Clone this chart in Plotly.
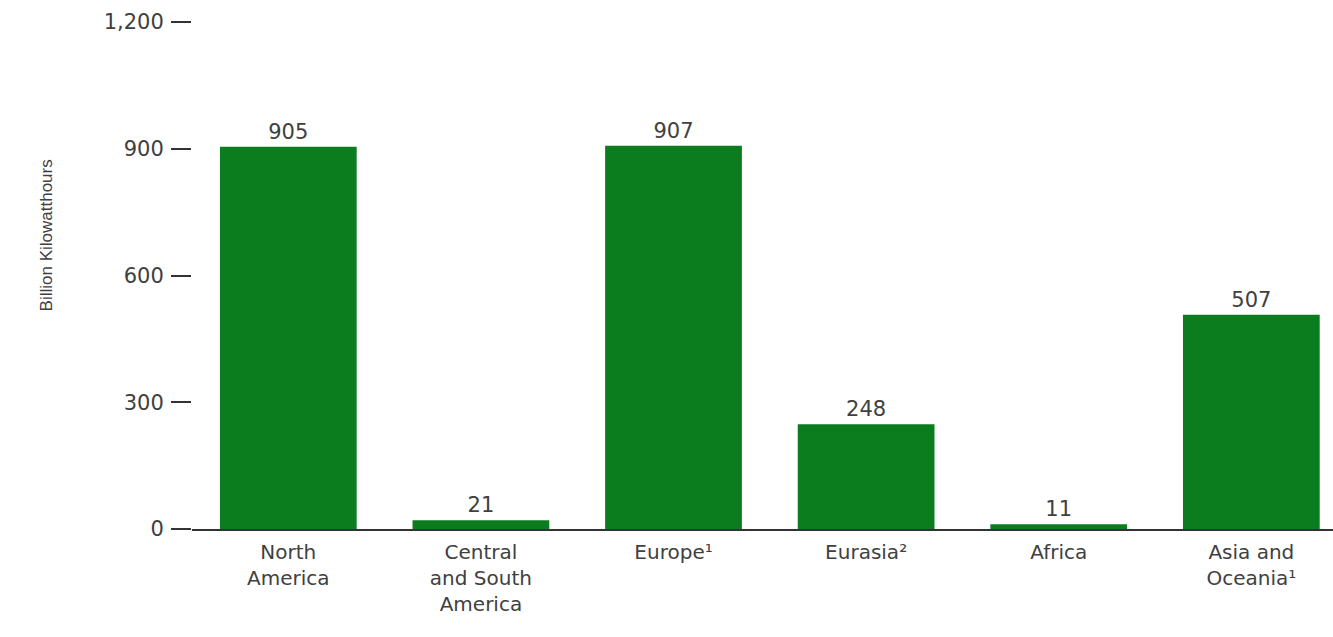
import plotly.graph_objects as go

categories = ["North<br>America", "Central<br>and South<br>America", "Europe¹", "Eurasia²", "Africa", "Asia and<br>Oceania¹"]
values = [905, 21, 907, 248, 11, 507]
value_labels = ["905", "21", "907", "248", "11", "507"]
y_ticks = [0, 300, 600, 900, 1200]
y_tick_text = ["0", "300", "600", "900", "1,200"]

bar_color = "#0b7d1f"
text_color = "#404040"
font_family = "DejaVu Sans, Verdana, sans-serif"

fig = go.Figure(go.Bar(
    x=categories,
    y=values,
    text=value_labels,
    textposition="outside",
    cliponaxis=False,
    textfont=dict(family=font_family, size=21, color=text_color),
    marker=dict(color=bar_color, line=dict(width=0)),
    width=0.71,
))

fig.update_layout(
    width=1333, height=637,
    margin=dict(l=192, r=0, t=22, b=108),
    paper_bgcolor="white", plot_bgcolor="white",
    font=dict(family=font_family, size=20, color=text_color),
    showlegend=False,
)
fig.update_xaxes(
    type="category",
    range=[-0.5, 5.424],
    showline=True, linecolor="#333333", linewidth=2,
    showgrid=False, ticks="", zeroline=False,
    ticklabelstandoff=4,
    tickfont=dict(family=font_family, size=20, color=text_color),
)
fig.update_yaxes(
    range=[0, 1200],
    tickvals=y_ticks, ticktext=y_tick_text,
    ticks="outside", ticklen=20, tickwidth=2, tickcolor="#333333",
    showgrid=False, zeroline=False, showline=False,
    ticklabelstandoff=3,
    tickfont=dict(family=font_family, size=21, color=text_color),
)
fig.add_annotation(
    text="Billion Kilowatthours",
    xref="paper", yref="paper",
    x=-0.128, y=0.579,
    xanchor="center", yanchor="middle",
    textangle=-90, showarrow=False,
    font=dict(family="Liberation Sans, Arial, sans-serif", size=17, color=text_color),
)

fig.write_html("out.html")
